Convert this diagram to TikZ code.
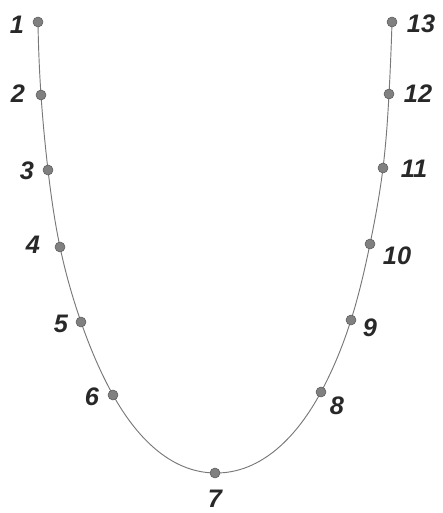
\documentclass[tikz,border=0pt]{standalone}
\usepackage{fontspec}
\setsansfont{Liberation Sans}
\usetikzlibrary{positioning,hobby}
\definecolor{dotgray}{RGB}{128,128,128}
\definecolor{linegray}{RGB}{120,120,120}
\definecolor{numgray}{RGB}{40,40,40}
\tikzset{
	pt/.style={circle, fill=dotgray, draw=dotgray!70!black, line width=0.4pt, inner sep=0pt, minimum size=7.5pt},
	num/.style={font=\sffamily\bfseries\itshape\fontsize{19}{22}\selectfont, text=numgray, inner sep=0pt},
	curve/.style={linegray, line width=0.7pt}
}

\begin{document}
\begin{tikzpicture}[x=0.75pt, y=-0.75pt]
	\useasboundingbox (0,0) rectangle (442,513);
	
	% points along the curve
	\foreach \n/\x/\y in {1/38/22, 2/41/95, 3/48/170, 4/60/247, 5/81/322, 6/113/395, 7/215/473, 8/321/392, 9/351/320, 10/370/244, 11/383/168, 12/389/94, 13/392/22}
	\coordinate (p\n) at (\x,\y);
	
	% the curve
	\draw[curve, use Hobby shortcut] (p1) .. (p2) .. (p3) .. (p4) .. (p5) .. (p6) .. (p7) .. (p8) .. (p9) .. (p10) .. (p11) .. (p12) .. (p13);
	
	% dots and numbers
	\foreach \n/\lx/\ly in {1/17/25, 2/18/94, 3/27/171, 4/33/245, 5/61/324, 6/92/397, 7/215/499, 8/337/406, 9/370/328, 10/397/256, 11/414/169, 12/418/94, 13/421/24}
	{
		\node[pt] (d\n) at (p\n) {};
		\node[num] (l\n) at (\lx,\ly) {\n};
	}
	
\end{tikzpicture}
\end{document}
